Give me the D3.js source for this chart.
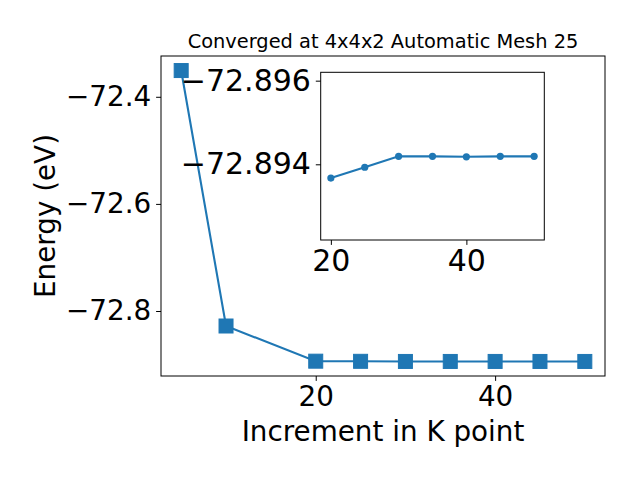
<!DOCTYPE html>
<html>
<head>
<meta charset="utf-8">
<script src="https://cdn.jsdelivr.net/npm/d3@7"></script>
<style>
  html, body { margin: 0; padding: 0; background: #fff; }
  svg { display: block; }
  text { font-family: "DejaVu Sans", sans-serif; fill: #000; }
</style>
</head>
<body>
<svg id="chart" width="640" height="480"></svg>
<script>
// ---- data ----
const kPoints = [5, 10, 20, 25, 30, 35, 40, 45, 50];
const energies = [-72.351, -72.828, -72.89367, -72.89393, -72.89419, -72.89419, -72.89418, -72.89419, -72.89419];
const insetK = [20, 25, 30, 35, 40, 45, 50];
const insetE = [-72.89367, -72.89393, -72.89419, -72.89419, -72.89418, -72.89419, -72.89419];
const mainXTicks = [20, 40];
const mainYTicks = [-72.4, -72.6, -72.8];
const insetXTicks = [20, 40];
const insetYTicks = [-72.896, -72.894];
const insetYLimits = [-72.8962, -72.89219]; // inverted axis: top, bottom
const titleText = "Converged at 4x4x2 Automatic Mesh 25";
const xLabel = "Increment in K point";
const yLabel = "Energy (eV)";

const color = "#1f77b4";
const svg = d3.select("#chart");
const minus = s => s.replace(/-/g, "\u2212");

// ---- main axes ----
const M = { left: 161, right: 605, top: 56, bottom: 376 };
function pad(ext, f) { const s = ext[1] - ext[0]; return [ext[0] - s * f, ext[1] + s * f]; }
const x = d3.scaleLinear().domain(pad(d3.extent(kPoints), 0.05)).range([M.left, M.right]);
const y = d3.scaleLinear().domain(pad(d3.extent(energies), 0.05)).range([M.bottom, M.top]);

const pts = kPoints.map((k, i) => ({ k, e: energies[i] }));

const gx = svg.append("g").attr("transform", `translate(0,${M.bottom})`)
  .call(d3.axisBottom(x).tickValues(mainXTicks).tickSize(4.9).tickPadding(4.9).tickFormat(d3.format("d")));
const gy = svg.append("g").attr("transform", `translate(${M.left},0)`)
  .call(d3.axisLeft(y).tickValues(mainYTicks).tickSize(4.9).tickPadding(4.9).tickFormat(d => minus(d3.format(".1f")(d))));
[gx, gy].forEach(g => {
  g.select(".domain").remove();
  g.selectAll("line").attr("stroke", "#000").attr("stroke-width", 1);
  g.selectAll("text").style("font-family", '"DejaVu Sans", sans-serif').style("font-size", "27.8px").attr("fill", "#000");
});
gx.selectAll("text").attr("dy", "0.72em");

svg.append("path").datum(pts)
  .attr("fill", "none").attr("stroke", color).attr("stroke-width", 2.1)
  .attr("d", d3.line().x(d => x(d.k)).y(d => y(d.e)));
const sq = 14;
svg.append("g").selectAll("rect").data(pts).join("rect")
  .attr("x", d => x(d.k) - sq / 2).attr("y", d => y(d.e) - sq / 2)
  .attr("width", sq).attr("height", sq).attr("fill", color)
  .attr("stroke", color).attr("stroke-width", 1);

svg.append("rect").attr("x", M.left).attr("y", M.top)
  .attr("width", M.right - M.left).attr("height", M.bottom - M.top)
  .attr("fill", "none").attr("stroke", "#000").attr("stroke-width", 1);

svg.append("text").attr("x", (M.left + M.right) / 2).attr("y", 47.5)
  .attr("text-anchor", "middle").style("font-size", "19.4px").text(titleText);
svg.append("text").attr("x", (M.left + M.right) / 2).attr("y", 441)
  .attr("text-anchor", "middle").style("font-size", "27.8px").text(xLabel);
svg.append("text").attr("transform", `translate(55,${(M.top + M.bottom) / 2}) rotate(-90)`)
  .attr("text-anchor", "middle").style("font-size", "27.8px").text(yLabel);

// ---- inset axes ----
const I = { left: 320.7, right: 544.3, top: 72.3, bottom: 240 };
const xi = d3.scaleLinear().domain(pad(d3.extent(insetK), 0.05)).range([I.left, I.right]);
const yi = d3.scaleLinear().domain(insetYLimits).range([I.top, I.bottom]);

svg.append("rect").attr("x", I.left).attr("y", I.top)
  .attr("width", I.right - I.left).attr("height", I.bottom - I.top)
  .attr("fill", "#fff");

const ipts = insetK.map((k, i) => ({ k, e: insetE[i] }));
svg.append("path").datum(ipts)
  .attr("fill", "none").attr("stroke", color).attr("stroke-width", 2.1)
  .attr("d", d3.line().x(d => xi(d.k)).y(d => yi(d.e)));
svg.append("g").selectAll("circle").data(ipts).join("circle")
  .attr("cx", d => xi(d.k)).attr("cy", d => yi(d.e)).attr("r", 3.6).attr("fill", color);

svg.append("rect").attr("x", I.left).attr("y", I.top)
  .attr("width", I.right - I.left).attr("height", I.bottom - I.top)
  .attr("fill", "none").attr("stroke", "#000").attr("stroke-width", 1);

const gxi = svg.append("g").attr("transform", `translate(0,${I.bottom})`)
  .call(d3.axisBottom(xi).tickValues(insetXTicks).tickSize(4.9).tickPadding(4.9).tickFormat(d3.format("d")));
const gyi = svg.append("g").attr("transform", `translate(${I.left},0)`)
  .call(d3.axisLeft(yi).tickValues(insetYTicks).tickSize(4.9).tickPadding(4.9).tickFormat(d => minus(d3.format(".3f")(d))));
[gxi, gyi].forEach(g => {
  g.select(".domain").remove();
  g.selectAll("line").attr("stroke", "#000").attr("stroke-width", 1);
  g.selectAll("text").style("font-family", '"DejaVu Sans", sans-serif').style("font-size", "30px").attr("fill", "#000");
});
gxi.selectAll("text").attr("dy", "0.72em");
</script>
</body>
</html>
